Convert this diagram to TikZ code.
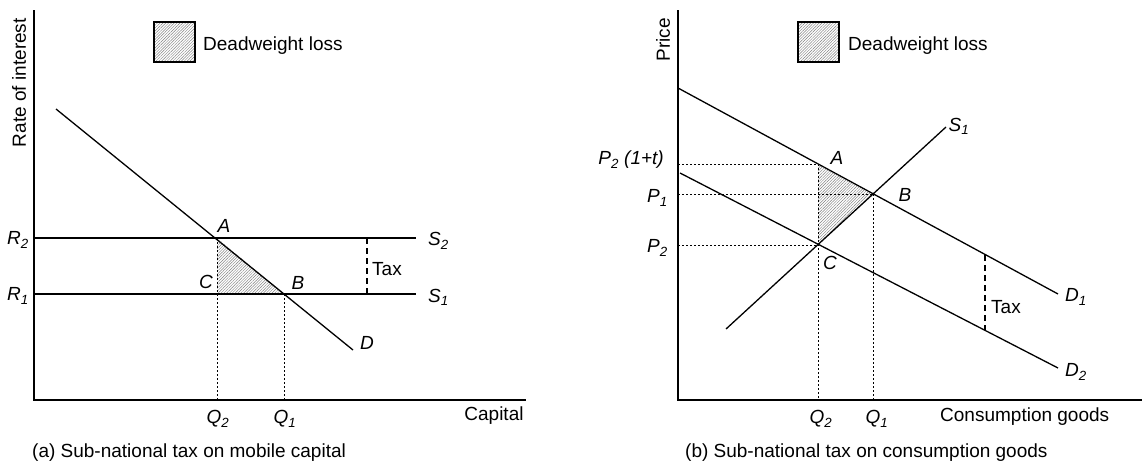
\documentclass[tikz,border=0pt]{standalone}
\usepackage{fontspec}
\setmainfont{Liberation Sans}
\usetikzlibrary{patterns.meta}
\begin{document}
\begin{tikzpicture}[x=1pt,y=-1pt,
  axis/.style={line width=1.5pt},
  curve/.style={line width=1.3pt},
  guide/.style={line width=0.8pt, dash pattern=on 2pt off 2pt},
  taxline/.style={line width=1.3pt, dash pattern=on 6pt off 4pt},
  dwl/.style={pattern={Lines[angle=45,distance=2pt,line width=0.45pt]}, pattern color=black!50},
  txt/.style={inner sep=0pt, font=\fontsize{19}{22}\selectfont},
  lab/.style={inner sep=0pt, font=\fontsize{19}{22}\selectfont\itshape},
]
\useasboundingbox (0,0) rectangle (1142,466);

% ---------------- Panel (a) ----------------
\coordinate (aO) at (34,400);
\coordinate (aYt) at (34,10);
\coordinate (aXe) at (526,400);
\coordinate (aD0) at (56,109);
\coordinate (aD1) at (353,350);
\coordinate (aA) at (217,238);
\coordinate (aB) at (284,294);
\coordinate (aC) at (217,294);
\coordinate (aR2) at (34,238);
\coordinate (aR1) at (34,294);
\coordinate (aS2) at (416,238);
\coordinate (aS1) at (416,294);
\coordinate (aQ2) at (217,400);
\coordinate (aQ1) at (284,400);
\coordinate (aT2) at (367,238);
\coordinate (aT1) at (367,294);

\fill[dwl] (aA) -- (aC) -- (aB) -- cycle;
\draw[guide] (aA) -- (aQ2);
\draw[guide] (aB) -- (aQ1);
\draw[curve] (aR2) -- (aS2);
\draw[curve] (aR1) -- (aS1);
\draw[curve] (aD0) -- (aD1);
\draw[taxline] (aT2) -- (aT1);
\draw[axis] (aYt) -- (aO) -- (aXe);

\draw[line width=1.2pt, dwl] (154,22) rectangle (195,62);
\node[txt, anchor=west] (aKeyT) at (203,46) {Deadweight loss};
\node[txt, rotate=90, anchor=east] (aYl) at (19,18) {Rate of interest};
\node[lab, anchor=east] (aR2l) at (29,240) {R\textsubscript{2}};
\node[lab, anchor=east] (aR1l) at (29,296) {R\textsubscript{1}};
\node[lab, anchor=west] (aS2l) at (428,241) {S\textsubscript{2}};
\node[lab, anchor=west] (aS1l) at (428,297) {S\textsubscript{1}};
\node[lab] (aAl) at (224,226) {A};
\node[lab] (aCl) at (206,282) {C};
\node[lab] (aBl) at (298,283) {B};
\node[lab] (aDl) at (367,343) {D};
\node[txt, anchor=west] (aTax) at (372,269) {Tax};
\node[lab] (aQ2l) at (218,419) {Q\textsubscript{2}};
\node[lab] (aQ1l) at (285,419) {Q\textsubscript{1}};
\node[txt] (aXl) at (494,416) {Capital};
\node[txt, anchor=west] (aCap) at (32,453) {(a) Sub-national tax on mobile capital};

% ---------------- Panel (b) ----------------
\coordinate (bO) at (678,400);
\coordinate (bYt) at (678,10);
\coordinate (bXe) at (1142,400);
\coordinate (bD1s) at (678,88);
\coordinate (bD1e) at (1058,294);
\coordinate (bD2s) at (680,173);
\coordinate (bD2e) at (1058,368);
\coordinate (bSs) at (726,329);
\coordinate (bSe) at (946,127);
\coordinate (bA) at (818,164);
\coordinate (bB) at (873,194);
\coordinate (bC) at (818,245);
\coordinate (bPa) at (678,164);
\coordinate (bPb) at (678,194);
\coordinate (bPc) at (678,245);
\coordinate (bQ2) at (818,400);
\coordinate (bQ1) at (873,400);
\coordinate (bT1) at (985,255);
\coordinate (bT2) at (985,330);

\fill[dwl] (bA) -- (bB) -- (bC) -- cycle;
\draw[guide] (bPa) -- (bA);
\draw[guide] (bPb) -- (bB);
\draw[guide] (bPc) -- (bC);
\draw[guide] (bA) -- (bQ2);
\draw[guide] (bB) -- (bQ1);
\draw[curve] (bD1s) -- (bD1e);
\draw[curve] (bD2s) -- (bD2e);
\draw[curve] (bSs) -- (bSe);
\draw[taxline] (bT1) -- (bT2);
\draw[axis] (bYt) -- (bO) -- (bXe);

\draw[line width=1.2pt, dwl] (798,22) rectangle (839,62);
\node[txt, anchor=west] (bKeyT) at (848,46) {Deadweight loss};
\node[txt, rotate=90, anchor=east] (bYl) at (663,18) {Price};
\node[lab, anchor=east] (bPal) at (664,160) {P\textsubscript{2} (1+t)};
\node[lab, anchor=east] (bPbl) at (668,198) {P\textsubscript{1}};
\node[lab, anchor=east] (bPcl) at (668,248) {P\textsubscript{2}};
\node[lab] (bAl) at (837,158) {A};
\node[lab] (bBl) at (905,195) {B};
\node[lab] (bCl) at (830,263) {C};
\node[lab] (bSl) at (959,126) {S\textsubscript{1}};
\node[lab] (bD1l) at (1076,297) {D\textsubscript{1}};
\node[lab] (bD2l) at (1076,372) {D\textsubscript{2}};
\node[txt, anchor=west] (bTax) at (991,307) {Tax};
\node[lab] (bQ2l) at (821,419) {Q\textsubscript{2}};
\node[lab] (bQ1l) at (877,419) {Q\textsubscript{1}};
\node[txt, anchor=west] (bXl) at (940,417) {Consumption goods};
\node[txt, anchor=west] (bCap) at (685,453) {(b) Sub-national tax on consumption goods};
\end{tikzpicture}
\end{document}
